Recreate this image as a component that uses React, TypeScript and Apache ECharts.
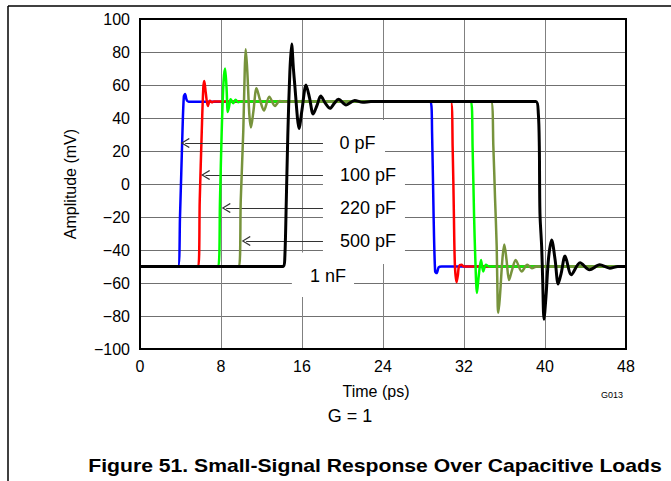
import React, { useEffect, useRef } from 'react';
import * as echarts from 'echarts';

// ---- data (time in ps, amplitude in mV) ----
const trace0pF: [number, number][] = [
  [0, -50], [3.75, -50], [3.95, -20], [4.2, 33], [4.33, 53], [4.45, 54.5], [4.6, 51], [4.8, 49.8],
  [28.7, 49.8], [28.85, 30], [29.0, -20], [29.15, -53], [29.3, -54], [29.5, -50.5], [29.8, -50], [48, -50],
];
const trace100pF: [number, number][] = [
  [0, -50], [5.75, -50], [5.9, -10], [6.1, 32], [6.25, 58], [6.35, 62.4], [6.5, 55], [6.7, 47.3],
  [6.9, 50.5], [7.1, 49.5], [7.3, 50], [30.7, 50], [30.88, 22], [31.0, -18], [31.1, -49], [31.27, -59.5],
  [31.4, -55], [31.5, -50], [31.75, -49], [32.0, -50], [48, -50],
];
const trace220pF: [number, number][] = [
  [0, -50], [7.73, -50], [7.9, -10], [8.07, 32], [8.25, 62], [8.4, 70], [8.55, 58], [8.67, 43.7],
  [8.8, 47], [8.95, 51.4], [9.22, 49], [9.45, 51], [9.7, 49.6], [10.0, 50], [32.69, 50], [32.85, 22],
  [32.99, -18], [33.12, -46], [33.28, -66], [33.45, -56], [33.68, -46], [33.9, -53], [34.17, -48.9],
  [34.5, -50], [48, -50],
];
const trace500pF: [number, number][] = [
  [0, -50], [9.78, -50], [9.95, -10], [10.2, 32], [10.35, 70], [10.44, 81.6], [10.6, 68], [10.8, 42],
  [10.96, 34.3], [11.2, 44], [11.51, 58], [11.85, 51], [12.24, 44.5], [12.77, 52.9], [13.33, 47.3],
  [13.8, 50.3], [14.3, 49.8], [14.8, 50], [34.67, 50], [34.9, 22.6], [35.06, -7.7], [35.23, -38],
  [35.33, -74], [35.39, -78], [35.55, -68], [35.8, -45], [35.98, -36.7], [36.2, -46], [36.45, -58.2],
  [36.75, -52], [37.1, -46], [37.7, -53], [38.25, -49], [38.7, -51], [39.2, -50], [48, -50],
];
const trace1nF: [number, number][] = [
  [0, -50], [14.15, -50], [14.3, -45], [14.45, -10], [14.6, 30], [14.8, 68], [14.98, 84.8], [15.15, 70],
  [15.3, 59], [15.55, 40], [15.7, 33.7], [16.0, 45], [16.4, 60], [16.75, 52], [17.1, 42.4], [17.5, 48],
  [17.85, 53.3], [18.3, 49], [18.77, 45.9], [19.2, 49], [19.6, 51.3], [20.35, 47.9], [21.2, 50.6],
  [22.0, 49.5], [22.8, 50], [39.1, 50], [39.34, 42.8], [39.44, 22.6], [39.5, -17.6], [39.67, -38],
  [39.77, -58], [39.9, -82], [40.1, -68], [40.35, -45], [40.66, -34], [41.0, -46], [41.3, -60.6],
  [41.6, -54], [41.98, -43.6], [42.6, -55], [43.46, -47.7], [44.4, -52], [45.4, -49], [46.4, -51],
  [47.2, -50], [48, -50],
];

const seriesNames = ['0 pF', '100 pF', '220 pF', '500 pF', '1 nF'];
const seriesColors = ['#0000ff', '#ff0000', '#00ff00', '#77933c', '#000000'];
const seriesWidths = [2.5, 2.5, 2.5, 2.5, 3];
const traces = [trace0pF, trace100pF, trace220pF, trace500pF, trace1nF];

// annotation labels
const labelTexts = ['0 pF', '100 pF', '220 pF', '500 pF', '1 nF'];
const labelStartX = [19.7, 19.75, 19.75, 19.75, 16.8];
const labelY = [24.8, 5.5, -14.5, -34.5, -55.8];
// arrows
const arrowTipX = [4.02, 6.03, 8.07, 10.04];
const arrowStartX = 18.07;
const arrowY = [24.8, 5.5, -14.5, -34.5];
// white label backgrounds [x1, y1, x2, y2]
const labelBoxes: [number, number, number, number][] = [
  [18.07, 38.8, 24.2, 14.5],
  [18.07, 14.5, 26.17, -48.5],
  [15.0, -41.5, 21.14, -68.5],
];

// axes
const xMin = 0, xMax = 48, xStep = 8;
const yMin = -100, yMax = 100, yStep = 20;

const FONT = "'Liberation Sans', Arial, Helvetica, sans-serif";
const GRID = { left: 140, top: 19, width: 486, height: 330 };
const PX_PER_PS = GRID.width / (xMax - xMin);
const CHEVRON = 'path://M5,0 L10,9 L9,9.9 L5,2.4 L1,9.9 L0,9 Z';

export default function App() {
  const ref = useRef<HTMLDivElement>(null);
  useEffect(() => {
    document.body.style.margin = '0';
    const chart = echarts.init(ref.current!, undefined, { renderer: 'svg' });
    const series: any[] = traces.map((d, i) => ({
      name: seriesNames[i],
      type: 'line',
      data: d,
      showSymbol: false,
      symbol: 'none',
      smooth: 0.3,
      lineStyle: { color: seriesColors[i], width: seriesWidths[i] },
      itemStyle: { color: seriesColors[i] },
      z: 3 + i,
    }));
    series.push({
      name: 'annotations',
      type: 'line',
      data: [],
      z: 2,
      markArea: {
        silent: true,
        itemStyle: { color: '#ffffff', opacity: 1 },
        data: labelBoxes.map((b) => [{ coord: [b[0], b[1]] }, { coord: [b[2], b[3]] }]),
      },
      markLine: {
        silent: true,
        animation: false,
        symbol: ['none', CHEVRON],
        symbolSize: [10, 9],
        label: { show: false },
        lineStyle: { color: '#333333', width: 1, type: 'solid' },
        data: arrowTipX.map((tx, i) => [
          { coord: [arrowStartX, arrowY[i]] },
          { coord: [tx + 4.5 / PX_PER_PS, arrowY[i]] },
        ]),
      },
      markPoint: {
        silent: true,
        symbol: 'rect',
        symbolSize: 0,
        label: {
          show: true,
          position: 'right',
          distance: 0,
          formatter: (p: any) => p.name,
          color: '#000',
          fontSize: 18,
          fontFamily: FONT,
        },
        data: labelTexts.map((t, i) => ({ name: t, coord: [labelStartX[i], labelY[i]] })),
      },
    });

    chart.setOption({
      animation: false,
      grid: { ...GRID, containLabel: false },
      xAxis: {
        type: 'value',
        min: xMin,
        max: xMax,
        interval: xStep,
        name: 'Time (ps)',
        nameLocation: 'middle',
        nameGap: 34,
        nameTextStyle: { fontSize: 16, fontFamily: FONT, color: '#000', padding: [0, 14, 0, 0] },
        axisLine: { show: false },
        axisTick: { show: false },
        axisLabel: { fontSize: 16, fontFamily: FONT, color: '#000', margin: 9 },
        splitLine: { show: true, lineStyle: { color: '#808080', width: 1 } },
      },
      yAxis: {
        type: 'value',
        min: yMin,
        max: yMax,
        interval: yStep,
        name: 'Amplitude (mV)',
        nameLocation: 'middle',
        nameGap: 62,
        nameTextStyle: { fontSize: 16, fontFamily: FONT, color: '#000' },
        axisLine: { show: false },
        axisTick: { show: false },
        axisLabel: {
          fontSize: 16,
          fontFamily: FONT,
          color: '#000',
          margin: 10,
          formatter: (v: number) => (v < 0 ? '\u2212' + Math.abs(v) : String(v)),
        },
        splitLine: { show: true, lineStyle: { color: '#707070', width: 1 } },
      },
      series,
      graphic: [
        { type: 'line', z: 100, shape: { x1: 8, y1: 6, x2: 671, y2: 6 }, style: { stroke: '#000', lineWidth: 1.5 } },
        { type: 'line', z: 100, shape: { x1: 8, y1: 6, x2: 8, y2: 481 }, style: { stroke: '#000', lineWidth: 1.5 } },
        {
          type: 'rect',
          z: 100,
          shape: { x: GRID.left, y: GRID.top, width: GRID.width, height: GRID.height },
          style: { fill: 'none', stroke: '#000', lineWidth: 2 },
        },
        {
          type: 'text',
          z: 100,
          x: 623,
          y: 395,
          style: { text: 'G013', fontSize: 9, fontFamily: FONT, fill: '#000', align: 'right', verticalAlign: 'middle' },
        },
        {
          type: 'text',
          z: 100,
          x: 350,
          y: 416,
          style: { text: 'G = 1', fontSize: 18, fontFamily: FONT, fill: '#000', align: 'center', verticalAlign: 'middle' },
        },
        {
          type: 'text',
          z: 100,
          x: 375,
          y: 466,
          scaleX: 1.176,
          style: {
            text: 'Figure 51. Small-Signal Response Over Capacitive Loads',
            fontSize: 18,
            fontWeight: 'bold',
            fontFamily: FONT,
            fill: '#000',
            align: 'center',
            verticalAlign: 'middle',
          },
        },
      ],
    });
    return () => chart.dispose();
  }, []);
  return <div ref={ref} style={{ width: 671, height: 481 }} />;
}
